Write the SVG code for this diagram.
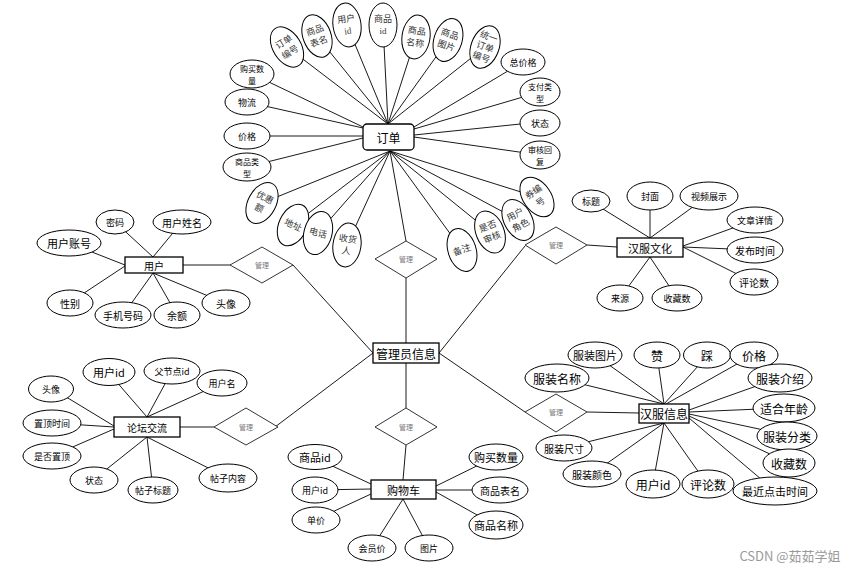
<svg xmlns="http://www.w3.org/2000/svg" width="861" height="570" viewBox="0 0 861 570">
<style>
.l{stroke:#000;stroke-width:0.9;fill:none}
.e{fill:#fff;stroke:#000;stroke-width:1}
.r{fill:#fff;stroke:#000;stroke-width:1.3}
.d{fill:#fff;stroke:#000;stroke-width:0.8}
text{font-family:"Noto Sans CJK SC","Liberation Sans",sans-serif;text-anchor:middle;dominant-baseline:central;fill:#000}
.g{fill:#777;font-size:7px}
.s{fill:#333;font-size:9px;font-family:"Liberation Serif","Noto Sans CJK SC",serif}
.f8{font-size:8px}.f9{font-size:9px}.f10{font-size:10px}.f11{font-size:11px}.f12{font-size:12px}
</style>
<rect width="861" height="570" fill="#fff"/>
<g id="connectors">
<path class="l" d="M388,124L287,47M388,124L317,36M388,124L347,25M388,124L383,25M388,124L416,37M388,124L448,40M388,124L485,47
M363,127L252,74M363,128L247,102M363,136L247,136M363,138L247,167
M414,127L523,62M414,129L540,92M414,135L540,122M414,137L540,155
M390,151L262,203M390,151L293,225M390,151L318,233M390,151L347,245M390,151L462,250M390,151L490,232M390,151L518,220M390,151L537,197M390,151L406,241
M406,278L406,343M293,265L373,353M275,427L373,353M406,363L406,408M525,246L439,353M525,412L439,353
M183,265L230,265M180,427L214,427M406,445L403,480M587,245L617,247M587,412L639,413
M153,257L115,222M153,257L182,222M125,265L69,243M125,266L69,303M153,273L123,315M153,273L177,315M153,273L225,303
M650,238L590,201M650,238L650,196M650,238L708,196M683,246L755,220M683,247L755,250M683,247L753,282M650,257L620,298M650,257L677,298
M147,417L108,372M147,417L172,371M147,417L222,383M114,426L53,389M114,427L52,423M114,429L52,456M147,437L93,480M147,437L153,490M147,437L228,478
M371,484L313,457M371,489L315,490M371,494L315,520M403,499L372,548M403,499L429,548M436,486L495,457M436,490L495,490M436,492L495,525
M664,404L557,378M664,404L595,355M664,404L657,355M664,404L708,355M666,404L753,355M689,410L779,378M689,412L783,408M689,414L787,435M689,416L789,463M689,418L775,491M664,423L563,448M664,423L592,474M664,423L653,483M664,423L707,484"/>
</g>
<g id="order">
<rect class="r" x="363" y="124" width="51" height="26" rx="4"/>
<text class="f12" x="388.5" y="137">订单</text>
</g>
<g id="order-attrs-top">
<g transform="translate(287,47) rotate(-32)"><ellipse class="e" rx="14" ry="22"/><text class="s" y="-6">订单</text><text class="s" y="6">编号</text></g>
<g transform="translate(317,36) rotate(-20)"><ellipse class="e" rx="14" ry="22"/><text class="s" y="-6">商品</text><text class="s" y="6">表名</text></g>
<g transform="translate(347,25) rotate(-8)"><ellipse class="e" rx="14" ry="22"/><text class="s" y="-6">用户</text><text class="s" y="6">id</text></g>
<g transform="translate(383,25)"><ellipse class="e" rx="14" ry="22"/><text class="s" y="-6">商品</text><text class="s" y="6">id</text></g>
<g transform="translate(416,37) rotate(8)"><ellipse class="e" rx="14" ry="22"/><text class="s" y="-6">商品</text><text class="s" y="6">名称</text></g>
<g transform="translate(448,40) rotate(18)"><ellipse class="e" rx="14" ry="22"/><text class="s" y="-6">商品</text><text class="s" y="6">图片</text></g>
<g transform="translate(485,47) rotate(20)"><ellipse class="e" rx="14" ry="22"/><text class="s" y="-11">统一</text><text class="s" y="0">订单</text><text class="s" y="11">编号</text></g>
</g>
<g id="order-attrs-side">
<g transform="translate(252,74)"><ellipse class="e" rx="22" ry="14"/><text class="f8" y="-6">购买数</text><text class="f8" y="6">量</text></g>
<g transform="translate(247,102)"><ellipse class="e" rx="22" ry="13"/><text class="f9">物流</text></g>
<g transform="translate(247,136)"><ellipse class="e" rx="23" ry="13"/><text class="f9">价格</text></g>
<g transform="translate(247,167)"><ellipse class="e" rx="24" ry="14"/><text class="f8" y="-6">商品类</text><text class="f8" y="6">型</text></g>
<g transform="translate(523,62)"><ellipse class="e" rx="22" ry="13"/><text class="f9">总价格</text></g>
<g transform="translate(540,92)"><ellipse class="e" rx="20" ry="14"/><text class="f8" y="-6">支付类</text><text class="f8" y="6">型</text></g>
<g transform="translate(540,123)"><ellipse class="e" rx="20" ry="13"/><text class="f9">状态</text></g>
<g transform="translate(540,155)"><ellipse class="e" rx="20" ry="14"/><text class="f8" y="-6">审核回</text><text class="f8" y="6">复</text></g>
</g>
<g id="order-attrs-bottom">
<g transform="translate(262,203) rotate(28)"><ellipse class="e" rx="14" ry="22"/><text class="s" y="-6">优惠</text><text class="s" y="6">额</text></g>
<g transform="translate(293,225) rotate(25)"><ellipse class="e" rx="14" ry="22"/><text class="s">地址</text></g>
<g transform="translate(318,233) rotate(15)"><ellipse class="e" rx="14" ry="22"/><text class="s">电话</text></g>
<g transform="translate(347,245) rotate(8)"><ellipse class="e" rx="14" ry="22"/><text class="s" y="-6">收货</text><text class="s" y="6">人</text></g>
<g transform="translate(462,250) rotate(-18)"><ellipse class="e" rx="14" ry="22"/><text class="s">备注</text></g>
<g transform="translate(490,232) rotate(-22)"><ellipse class="e" rx="14" ry="22"/><text class="s" y="-6">是否</text><text class="s" y="6">审核</text></g>
<g transform="translate(518,220) rotate(-28)"><ellipse class="e" rx="14" ry="22"/><text class="s" y="-6">用户</text><text class="s" y="6">角色</text></g>
<g transform="translate(537,197) rotate(-35)"><ellipse class="e" rx="14" ry="22"/><text class="s" y="-6">券编</text><text class="s" y="6">号</text></g>
</g>
<g id="rel-order"><path class="d" d="M375,259L406,241L437,259L406,278Z"/><text class="g" x="406" y="259">管理</text></g>
<g id="rel-user"><path class="d" d="M230,265L262,247L293,265L262,283Z"/><text class="g" x="262" y="265">管理</text></g>
<g id="rel-forum"><path class="d" d="M214,427L246,408L278,427L246,445Z"/><text class="g" x="246" y="427">管理</text></g>
<g id="rel-cart"><path class="d" d="M375,427L406,408L437,427L406,445Z"/><text class="g" x="406" y="427">管理</text></g>
<g id="rel-culture"><path class="d" d="M525,245L556,227L587,245L556,264Z"/><text class="g" x="556" y="245">管理</text></g>
<g id="rel-info"><path class="d" d="M525,412L556,394L587,412L556,432Z"/><text class="g" x="556" y="412">管理</text></g>
<g id="admin"><rect class="r" x="373" y="343" width="66" height="20"/><text class="f12" x="406" y="353">管理员信息</text></g>
<g id="user">
<rect class="r" x="125" y="257" width="58" height="16"/><text class="f10" x="154" y="265">用户</text>
</g>
<g id="user-attrs">
<g transform="translate(115,222)"><ellipse class="e" rx="19" ry="12"/><text class="f9">密码</text></g>
<g transform="translate(182,222)"><ellipse class="e" rx="29" ry="12"/><text class="f10">用户姓名</text></g>
<g transform="translate(69,243)"><ellipse class="e" rx="32" ry="13"/><text class="f11">用户账号</text></g>
<g transform="translate(70,303)"><ellipse class="e" rx="23" ry="13"/><text class="f10">性别</text></g>
<g transform="translate(123,315)"><ellipse class="e" rx="28" ry="13"/><text class="f10">手机号码</text></g>
<g transform="translate(177,315)"><ellipse class="e" rx="23" ry="13"/><text class="f10">余额</text></g>
<g transform="translate(226,303)"><ellipse class="e" rx="24" ry="13"/><text class="f10">头像</text></g>
</g>
<g id="culture"><rect class="r" x="617" y="238" width="66" height="19"/><text class="f11" x="650" y="247.5">汉服文化</text></g>
<g id="culture-attrs">
<g transform="translate(591,201)"><ellipse class="e" rx="19" ry="11"/><text class="f9">标题</text></g>
<g transform="translate(650,196)"><ellipse class="e" rx="23" ry="14"/><text class="f9">封面</text></g>
<g transform="translate(709,196)"><ellipse class="e" rx="29" ry="14"/><text class="f9">视频展示</text></g>
<g transform="translate(755,220)"><ellipse class="e" rx="28" ry="13"/><text class="f9">文章详情</text></g>
<g transform="translate(755,250)"><ellipse class="e" rx="28" ry="13"/><text class="f10">发布时间</text></g>
<g transform="translate(754,282)"><ellipse class="e" rx="24" ry="13"/><text class="f10">评论数</text></g>
<g transform="translate(620,298)"><ellipse class="e" rx="23" ry="13"/><text class="f9">来源</text></g>
<g transform="translate(677,298)"><ellipse class="e" rx="25" ry="13"/><text class="f9">收藏数</text></g>
</g>
<g id="forum"><rect class="r" x="114" y="417" width="66" height="20"/><text class="f10" x="147" y="427">论坛交流</text></g>
<g id="forum-attrs">
<g transform="translate(109,372)"><ellipse class="e" rx="26" ry="13.5"/><text class="f11">用户id</text></g>
<g transform="translate(172,371)"><ellipse class="e" rx="28" ry="13"/><text class="f9">父节点id</text></g>
<g transform="translate(222,383)"><ellipse class="e" rx="25" ry="13"/><text class="f9">用户名</text></g>
<g transform="translate(51,389)"><ellipse class="e" rx="22.5" ry="13"/><text class="f9">头像</text></g>
<g transform="translate(52,423)"><ellipse class="e" rx="29" ry="13"/><text class="f9">置顶时间</text></g>
<g transform="translate(52,456)"><ellipse class="e" rx="29" ry="13"/><text class="f9">是否置顶</text></g>
<g transform="translate(94,480)"><ellipse class="e" rx="24" ry="13"/><text class="f9">状态</text></g>
<g transform="translate(153,490)"><ellipse class="e" rx="25" ry="13"/><text class="f9">帖子标题</text></g>
<g transform="translate(228,478)"><ellipse class="e" rx="29" ry="14"/><text class="f9">帖子内容</text></g>
</g>
<g id="cart"><rect class="r" x="371" y="480" width="65" height="19"/><text class="f11" x="403.5" y="489.5">购物车</text></g>
<g id="cart-attrs">
<g transform="translate(315,457)"><ellipse class="e" rx="27" ry="12.5"/><text class="f11">商品id</text></g>
<g transform="translate(315,490)"><ellipse class="e" rx="23" ry="13"/><text class="f9">用户id</text></g>
<g transform="translate(316,520)"><ellipse class="e" rx="24" ry="13"/><text class="f9">单价</text></g>
<g transform="translate(372,548)"><ellipse class="e" rx="24" ry="13"/><text class="f9">会员价</text></g>
<g transform="translate(429,548)"><ellipse class="e" rx="24" ry="13"/><text class="f9">图片</text></g>
<g transform="translate(496,457)"><ellipse class="e" rx="27" ry="13"/><text class="f11">购买数量</text></g>
<g transform="translate(500,490)"><ellipse class="e" rx="28" ry="13"/><text class="f10">商品表名</text></g>
<g transform="translate(496,525)"><ellipse class="e" rx="27" ry="14"/><text class="f11">商品名称</text></g>
</g>
<g id="info"><rect class="r" x="639" y="404" width="50" height="19" stroke-width="1.8"/><text class="f12" x="664" y="413.5">汉服信息</text></g>
<g id="info-attrs">
<g transform="translate(595,355)"><ellipse class="e" rx="27" ry="13"/><text class="f11">服装图片</text></g>
<g transform="translate(657,355)"><ellipse class="e" rx="23" ry="13"/><text class="f12">赞</text></g>
<g transform="translate(707,355)"><ellipse class="e" rx="23.5" ry="13"/><text class="f12">踩</text></g>
<g transform="translate(754,355)"><ellipse class="e" rx="24" ry="13"/><text class="f12">价格</text></g>
<g transform="translate(557,378)"><ellipse class="e" rx="32" ry="14"/><text class="f12">服装名称</text></g>
<g transform="translate(780,378)"><ellipse class="e" rx="32" ry="14"/><text class="f12">服装介绍</text></g>
<g transform="translate(784,408)"><ellipse class="e" rx="31" ry="14"/><text class="f12">适合年龄</text></g>
<g transform="translate(787,436)"><ellipse class="e" rx="30" ry="14"/><text class="f12">服装分类</text></g>
<g transform="translate(789,463)"><ellipse class="e" rx="26" ry="14"/><text class="f12">收藏数</text></g>
<g transform="translate(775,491)"><ellipse class="e" rx="42" ry="14"/><text class="f11">最近点击时间</text></g>
<g transform="translate(564,448)"><ellipse class="e" rx="28" ry="13"/><text class="f10">服装尺寸</text></g>
<g transform="translate(592,474)"><ellipse class="e" rx="29" ry="13"/><text class="f10">服装颜色</text></g>
<g transform="translate(653,484)"><ellipse class="e" rx="27" ry="14"/><text class="f12">用户id</text></g>
<g transform="translate(708,484)"><ellipse class="e" rx="26" ry="14"/><text class="f12">评论数</text></g>
</g>
<text x="790" y="555" style="font-size:13px;fill:#9a9a9a">CSDN @茹茹学姐</text>
</svg>
